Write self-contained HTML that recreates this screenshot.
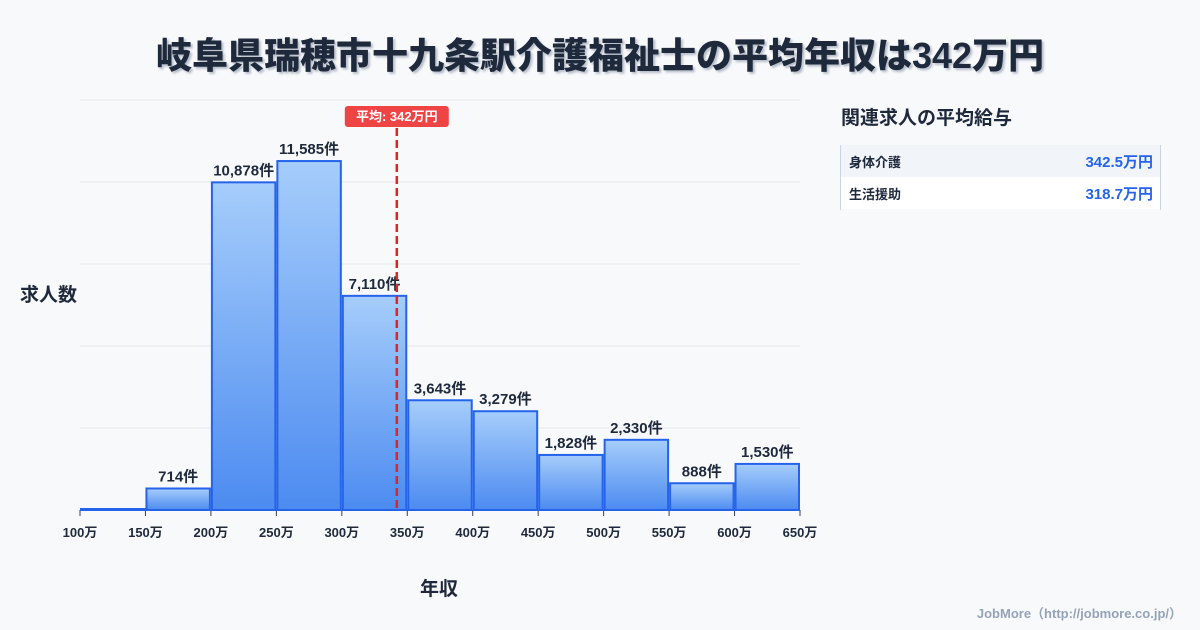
<!DOCTYPE html>
<html><head><meta charset="utf-8">
<style>
body{margin:0;width:1200px;height:630px;background:#f8f9fb;font-family:"Liberation Sans","Noto Sans CJK JP",sans-serif;overflow:hidden;position:relative}
.t{position:absolute}
</style></head><body>
<div class="t" style="left:0;top:27px;width:1200px;text-align:center;font-size:36px;font-weight:900;color:#1e293b;text-shadow:2px 2px 2px rgba(100,116,139,0.45)">岐阜県瑞穂市十九条駅介護福祉士の平均年収は342万円</div>
<svg id="chart" width="1200" height="630" style="position:absolute;left:0;top:0">
<defs><linearGradient id="g" x1="0" y1="0" x2="0" y2="1"><stop offset="0" stop-color="#a6cdfb"/><stop offset="1" stop-color="#4c8bf0"/></linearGradient></defs>
</svg>
<div class="t" style="left:20px;top:280px;font-size:19px;font-weight:bold;color:#1e293b">求人数</div>
<div class="t" style="left:420px;top:574px;font-size:19px;font-weight:bold;color:#1e293b">年収</div>
<div class="t" style="left:841px;top:103px;font-size:19px;font-weight:bold;color:#1e293b">関連求人の平均給与</div>
<div class="t" style="left:840px;top:145px;width:319px;height:65px;border-left:1px solid #cbd5e1;border-right:1px solid #cbd5e1">
<div style="height:32px;background:#f1f5f9;display:flex;justify-content:space-between;align-items:center;padding:0 7px 0 8px;font-size:13px;font-weight:bold;color:#1e293b"><span>身体介護</span><span style="color:#2563eb;font-size:15px">342.5万円</span></div>
<div style="height:32px;background:#fff;display:flex;justify-content:space-between;align-items:center;padding:0 7px 0 8px;font-size:13px;font-weight:bold;color:#1e293b"><span>生活援助</span><span style="color:#2563eb;font-size:15px">318.7万円</span></div>
</div>
<div class="t" style="right:18px;top:603px;font-size:13px;font-weight:bold;color:#94a3b8">JobMore（http://jobmore.co.jp/）</div>
<script>
const binStarts=[100,150,200,250,300,350,400,450,500,550,600];
const counts=[0,714,10878,11585,7110,3643,3279,1828,2330,888,1530];
const tickLabels=["100万","150万","200万","250万","300万","350万","400万","450万","500万","550万","600万","650万"];
const tickValues=[100,150,200,250,300,350,400,450,500,550,600,650];
const avgValue=342;
const yMax=13612;
const svg=document.getElementById('chart');
const NS='http://www.w3.org/2000/svg';
const X=v=>80+(v-100)*(720/550);
const Y=v=>510-v*(410/yMax);
function el(t,a){const e=document.createElementNS(NS,t);for(const k in a)e.setAttribute(k,a[k]);svg.appendChild(e);return e;}
for(let i=1;i<=5;i++){const g=el('line',{x1:80,x2:800,y1:510-i*82,y2:510-i*82,stroke:'#e5e7eb','stroke-width':1});

}
const ax=el('line',{x1:80,x2:800,y1:510,y2:510,stroke:'#334155','stroke-width':1});


tickValues.forEach((v,i)=>{const tk=el('line',{x1:X(v),x2:X(v),y1:510,y2:516,stroke:'#334155'});


const t=el('text',{x:X(v),y:537,'text-anchor':'middle','font-size':13,'font-weight':'bold',fill:'#1e293b'});t.textContent=tickLabels[i];

});
binStarts.forEach((s,i)=>{const x0=X(s)+1,x1=X(s+50)-1,y=Math.min(Y(counts[i]),509);
const r=el('rect',{x:x0,y:y,width:x1-x0,height:510-y,fill:'url(#g)',stroke:'#2563eb','stroke-width':2});


if(counts[i]>0){const t=el('text',{x:(x0+x1)/2,y:Y(counts[i])-7,'text-anchor':'middle','font-size':15,'font-weight':'bold',fill:'#1e293b'});t.textContent=counts[i].toLocaleString('en-US')+'件';

}});
const ln=el('line',{x1:X(avgValue),x2:X(avgValue),y1:128,y2:510,stroke:'#dc2626','stroke-width':2.5,'stroke-dasharray':'8,4'});


const bx=el('rect',{x:X(avgValue)-52,y:106,width:104,height:21,rx:3,fill:'#ef4444'});


const bt=el('text',{x:X(avgValue),y:121,'text-anchor':'middle','font-size':13,'font-weight':'bold',fill:'#fff'});bt.textContent='平均: '+avgValue+'万円';


</script>
</body></html>
